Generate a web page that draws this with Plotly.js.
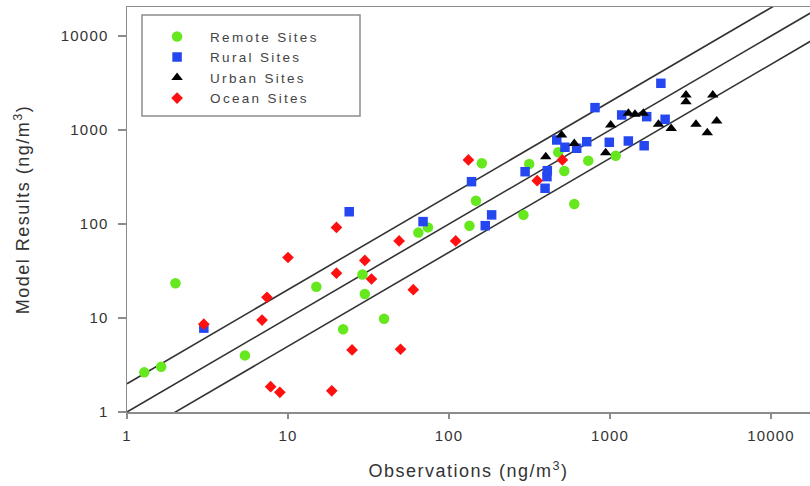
<!DOCTYPE html>
<html>
<head>
<meta charset="utf-8">
<script src="https://cdn.plot.ly/plotly-3.0.1.min.js"></script>
<style>
html,body{margin:0;padding:0;background:#fff;}
#chart{width:810px;height:486px;}
.xtitle,.ytitle{letter-spacing:1.5px;}
.legendtext{letter-spacing:2.3px;}
.xtick text,.ytick text{letter-spacing:1.2px;}
</style>
</head>
<body>
<div id="chart"></div>
<script>
// Remote sites (green circles)
const remoteObs   = [1.28, 1.63, 2.0, 5.4, 15, 22, 29, 30, 39.5, 64.5, 74, 134, 147, 160, 290, 315, 477, 520, 600, 733, 1085];
const remoteModel = [2.64, 3.03, 23.4, 4.0, 21.5, 7.6, 29, 18, 9.8, 81, 92, 96, 177, 442, 125, 435, 580, 366, 163, 472, 533];
// Rural sites (blue squares)
const ruralObs   = [3, 24, 69, 138, 168, 184, 297, 395, 406, 408, 467, 525, 621, 717, 807, 990, 1182, 1300, 1630, 1690, 2070, 2200];
const ruralModel = [7.8, 135, 106, 282, 96, 125, 360, 240, 319, 369, 783, 655, 639, 751, 1730, 740, 1445, 764, 680, 1386, 3140, 1300];
// Urban sites (black triangles)
const urbanObs   = [399, 500, 600, 940, 1010, 1300, 1430, 1610, 2000, 2400, 2965, 2965, 3420, 4020, 4350, 4600];
const urbanModel = [520, 885, 720, 574, 1130, 1504, 1469, 1504, 1150, 1040, 2360, 2000, 1150, 936, 2360, 1250];
// Ocean sites (red diamonds)
const oceanObs   = [3, 6.9, 7.4, 7.8, 8.9, 10, 18.7, 20, 20, 25, 30, 33, 49, 50, 60, 110, 132, 353, 506];
const oceanModel = [8.6, 9.5, 16.6, 1.86, 1.62, 44, 1.68, 92, 30, 4.57, 41, 26, 66, 4.65, 20, 66, 480, 289, 480];
// Reference lines: model = factor * observation
const refX = [1, 30000];
const refFactors = [2, 1, 0.5];
const tickVals = [1, 10, 100, 1000, 10000];
const tickText = ['1', '10', '100', '1000', '10000'];

const traces = [];
refFactors.forEach(f => {
  traces.push({
    x: refX, y: refX.map(v => v * f), mode: 'lines', type: 'scatter',
    line: {color: '#333333', width: 1.6}, showlegend: false, hoverinfo: 'skip'
  });
});
traces.push({x: remoteObs, y: remoteModel, mode: 'markers', type: 'scatter', name: 'Remote Sites',
  marker: {symbol: 'circle', size: 10.5, color: '#66e81e'}, legendgroup: 'a'});
traces.push({x: ruralObs, y: ruralModel, mode: 'markers', type: 'scatter', name: 'Rural Sites',
  marker: {symbol: 'square', size: 9.5, color: '#2547f0'}, legendgroup: 'b'});
traces.push({x: urbanObs, y: urbanModel, mode: 'markers', type: 'scatter', name: 'Urban Sites',
  marker: {symbol: 'triangle-up', size: 10, color: '#000000'}, legendgroup: 'c'});
traces.push({x: oceanObs, y: oceanModel, mode: 'markers', type: 'scatter', name: 'Ocean Sites',
  marker: {symbol: 'diamond', size: 9, color: '#ff1010'}, legendgroup: 'd'});

const FAM = 'Liberation Sans, Arial, sans-serif';
const axisFont = {family: FAM, size: 15, color: '#333'};
const titleFont = {family: FAM, size: 18, color: '#333'};
const layout = {
  width: 810, height: 486,
  margin: {l: 127, r: 0, t: 7, b: 74, pad: 0},
  paper_bgcolor: '#fff', plot_bgcolor: '#fff',
  showlegend: true,
  xaxis: {
    type: 'log', range: [0, 683/161], tickvals: tickVals, ticktext: tickText,
    showgrid: false, zeroline: false, showline: true, linecolor: '#8c8c8c', linewidth: 1.5,
    mirror: true, ticks: 'outside', ticklen: 5, tickcolor: '#8c8c8c', tickwidth: 1.5,
    tickfont: axisFont, ticklabelstandoff: 4, automargin: false,
    title: {text: 'Observations (ng/m<sup>3</sup>)', font: titleFont, standoff: 22}
  },
  yaxis: {
    type: 'log', range: [0, 405/94], tickvals: tickVals, ticktext: tickText,
    showgrid: false, zeroline: false, showline: true, linecolor: '#8c8c8c', linewidth: 1.5,
    ticks: 'outside', ticklen: 8, tickcolor: '#8c8c8c', tickwidth: 1.5,
    tickfont: axisFont, ticklabelstandoff: 6, automargin: false,
    title: {text: 'Model Results (ng/m<sup>3</sup>)', font: titleFont, standoff: 26}
  },
  legend: {
    x: 0.025, y: 0.965, xanchor: 'left', yanchor: 'top',
    bgcolor: 'rgba(0,0,0,0)', borderwidth: 0,
    font: {family: FAM, size: 13.5, color: '#444'},
    tracegroupgap: 0, itemwidth: 56
  },
  shapes: [{
    type: 'rect', xref: 'paper', yref: 'paper', layer: 'below',
    x0: (142-127)/683, x1: (360-127)/683, y0: (412-116)/405, y1: (412-15)/405,
    line: {color: '#8c8c8c', width: 1.5}, fillcolor: '#fff'
  }]
};
Plotly.newPlot('chart', traces, layout, {displayModeBar: false, staticPlot: true});
</script>
</body>
</html>
